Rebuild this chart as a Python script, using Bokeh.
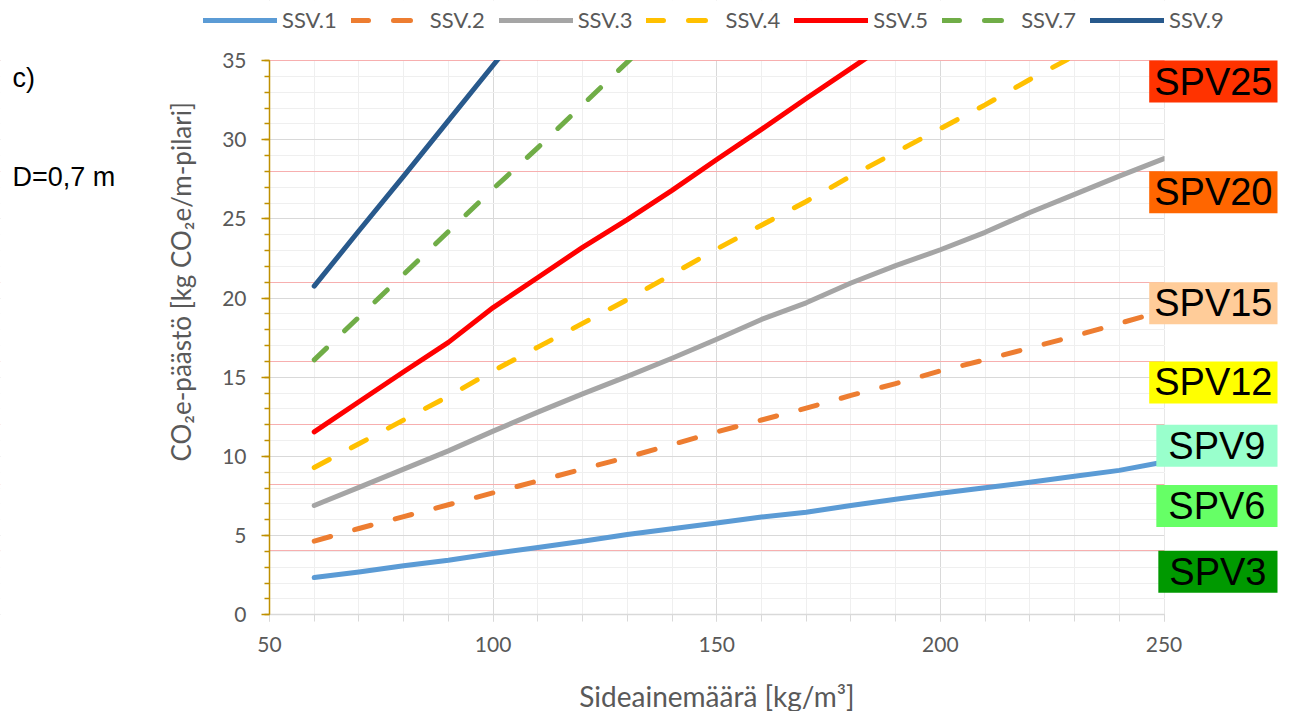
import math
from bokeh.plotting import figure
from bokeh.models import (Range1d, Label, Legend, LegendItem, SingleIntervalTicker, FixedTicker,
                          LinearAxis, Grid)
from bokeh.embed import file_html
from bokeh.resources import INLINE

# ---------------- data ----------------
binder = [60, 70, 80, 90, 100, 110, 120, 130, 140, 150, 160, 170, 180, 190, 200, 210, 220, 230, 240, 250]
ssv1 = [2.35, 2.7, 3.1, 3.45, 3.87, 4.25, 4.65, 5.07, 5.43, 5.8, 6.17, 6.48, 6.9, 7.3, 7.68, 8.02, 8.37, 8.75, 9.12, 9.65]
ssv2 = [4.65, 5.45, 6.2, 6.95, 7.7, 8.45, 9.2, 9.95, 10.75, 11.55, 12.3, 13.05, 13.85, 14.6, 15.4, 16.1, 16.85, 17.6, 18.4, 19.2]
ssv3 = [6.9, 8.05, 9.2, 10.35, 11.6, 12.8, 13.95, 15.05, 16.2, 17.4, 18.65, 19.7, 20.95, 22.05, 23.05, 24.15, 25.4, 26.55, 27.7, 28.8]
ssv4 = [9.3, 10.8, 12.3, 13.8, 15.4, 16.9, 18.4, 19.9, 21.5, 23.1, 24.6, 26.1, 27.7, 29.2, 30.7, 32.2, 33.8, 35.3]
ssv5 = [11.55, 13.45, 15.35, 17.2, 19.4, 21.3, 23.2, 24.95, 26.8, 28.75, 30.65, 32.6, 34.5, 36.4]
ssv7 = [16.1, 18.8, 21.5, 24.2, 26.9, 29.5, 32.2, 34.9, 37.6]
ssv9 = [20.75, 24.25, 27.7, 31.2, 34.7, 38.2]

series_names = ["SSV.1", "SSV.2", "SSV.3", "SSV.4", "SSV.5", "SSV.7", "SSV.9"]
series_values = [ssv1, ssv2, ssv3, ssv4, ssv5, ssv7, ssv9]
series_colors = ["#5B9BD5", "#ED7D31", "#A5A5A5", "#FFC000", "#FF0000", "#70AD47", "#28598C"]
series_dashed = [False, True, False, True, False, True, False]

spv_labels = ["SPV3", "SPV6", "SPV9", "SPV12", "SPV15", "SPV20", "SPV25"]
spv_levels = [4.05, 8.2, 12.0, 16.0, 21.0, 28.0, 35.0]
spv_colors = ["#009900", "#66FF66", "#99FFCC", "#FFFF00", "#FFCC99", "#FF6600", "#FF3300"]
spv_hpad = [11, 12, 12, 5, 5, 5, 5]

x_min, x_max, x_step = 50, 250, 50
y_min, y_max, y_step = 0, 35, 5

x_title = "Sideainemäärä [kg/m³]"
y_title = "CO₂e-päästö  [kg CO₂e/m-pilari]"
panel_tag = "c)"
diameter_note = "D=0,7 m"

FONT = "Lato"
GREY = "#595959"

# ---------------- layout geometry (canvas = frame) ----------------
W, H = 1295, 711
PX_L, PX_R = 269.0, 1163.5      # screen x of x_min / x_max
PY_B, PY_T = 614.3, 60.0        # screen y of y_min / y_max
sx = (PX_R - PX_L) / (x_max - x_min)
sy = (PY_B - PY_T) / (y_max - y_min)
xr = Range1d(x_min - PX_L / sx, x_max + (W - PX_R) / sx)
yr = Range1d(y_min - (H - PY_B) / sy, y_max + PY_T / sy)


def dx(px):
    return xr.start + px / sx


def dy(py):
    return yr.end - py / sy


p = figure(width=W, height=H, output_backend="svg", toolbar_location=None,
           x_range=xr, y_range=yr, x_axis_location=None, y_axis_location=None,
           min_border=0, min_border_left=0, min_border_right=0, min_border_top=0, min_border_bottom=0)
p.outline_line_color = None
p.background_fill_color = "white"
p.border_fill_color = "white"

xt = SingleIntervalTicker(interval=x_step, num_minor_ticks=5)
yt = SingleIntervalTicker(interval=y_step, num_minor_ticks=5)

# grids
p.add_layout(Grid(dimension=0, ticker=xt, bounds=(x_min, x_max),
                  grid_line_color="#D9D9D9", minor_grid_line_color="#EFEFEF"))
p.add_layout(Grid(dimension=1, ticker=yt, bounds=(y_min, y_max),
                  grid_line_color="#D9D9D9", minor_grid_line_color="#EFEFEF"))
# SPV threshold lines
p.add_layout(Grid(dimension=1, ticker=FixedTicker(ticks=spv_levels), bounds=(y_min, y_max),
                  grid_line_color="#F7AFAF", grid_line_width=1))

# axes
xa = LinearAxis(ticker=xt, fixed_location=y_min, bounds=(x_min, x_max))
xa.axis_line_color = "#D9D9D9"
xa.axis_line_width = 1.5
xa.major_tick_line_color = "#D9D9D9"
xa.minor_tick_line_color = "#D9D9D9"
xa.major_tick_out = 7
xa.major_tick_in = 0
xa.minor_tick_out = 7
xa.minor_tick_in = 0
xa.major_label_text_font = FONT
xa.major_label_text_font_size = "21px"
xa.major_label_text_color = GREY
xa.major_label_standoff = 15
xa.axis_label = x_title
xa.axis_label_text_font = FONT
xa.axis_label_text_font_size = "28px"
xa.axis_label_text_font_style = "normal"
xa.axis_label_text_color = GREY
xa.axis_label_standoff = 24
p.add_layout(xa, "below")

ya = LinearAxis(ticker=yt, fixed_location=x_min, bounds=(y_min, y_max))
ya.axis_line_color = "#BF9000"
ya.axis_line_width = 1.5
ya.major_tick_line_color = "#BF9000"
ya.minor_tick_line_color = "#BF9000"
ya.major_tick_line_width = 1.5
ya.minor_tick_line_width = 1.5
ya.major_tick_out = 8
ya.major_tick_in = 0
ya.minor_tick_out = 5
ya.minor_tick_in = 0
ya.major_label_text_font = FONT
ya.major_label_text_font_size = "21px"
ya.major_label_text_color = GREY
ya.major_label_standoff = 15
p.add_layout(ya, "left")

# y-axis title (placed as in the original, above centre)
p.add_layout(Label(x=dx(180), y=dy(278), text=y_title, angle=math.pi / 2,
                   text_align="center", text_baseline="middle",
                   text_font=FONT, text_font_size="26px", text_color=GREY))

# series
items = []
for name, vals, col, dashed in zip(series_names, series_values, series_colors, series_dashed):
    xs = binder[:len(vals)]
    kw = dict(line_color=col, line_width=5, line_cap="round", line_join="round")
    if dashed:
        kw["line_dash"] = "17 25"
    r = p.line(xs, vals, **kw)
    items.append(LegendItem(label=name, renderers=[r]))

# white masks outside the plotting area (keep lines and grid inside x/y limits)
e_x = 0.6 / sx
e_y = 0.6 / sy
p.quad(left=[xr.start, xr.start, xr.start, x_max + e_x],
       right=[xr.end, xr.end, x_min - e_x, xr.end],
       bottom=[y_max + e_y, yr.start, yr.start, yr.start],
       top=[yr.end, y_min - e_y, yr.end, yr.end],
       fill_color="white", line_color=None)

legend = Legend(items=items, orientation="horizontal", location=(203, H - 33),
                glyph_width=74, glyph_height=20, label_standoff=5, spacing=14,
                padding=0, margin=0, border_line_color=None, background_fill_alpha=0,
                label_text_font=FONT, label_text_font_size="22px", label_text_color=GREY)
p.add_layout(legend, "center")

# SPV labels at the right side
for txt, lv, col, hp in zip(spv_labels, spv_levels, spv_colors, spv_hpad):
    p.add_layout(Label(x=dx(1277), y=lv, text=txt, text_align="right", text_baseline="top",
                       text_font="Liberation Sans", text_font_size="38px", text_color="black",
                       background_fill_color=col, padding=(hp, 0)))

# side notes
p.add_layout(Label(x=dx(12), y=dy(77), text=panel_tag, text_baseline="middle", text_align="left",
                   text_font="Liberation Sans", text_font_size="27px", text_color="black"))
p.add_layout(Label(x=dx(12), y=dy(176), text=diameter_note, text_baseline="middle", text_align="left",
                   text_font="Liberation Sans", text_font_size="27px", text_color="black"))

open("out.html", "w").write(file_html(p, INLINE))
